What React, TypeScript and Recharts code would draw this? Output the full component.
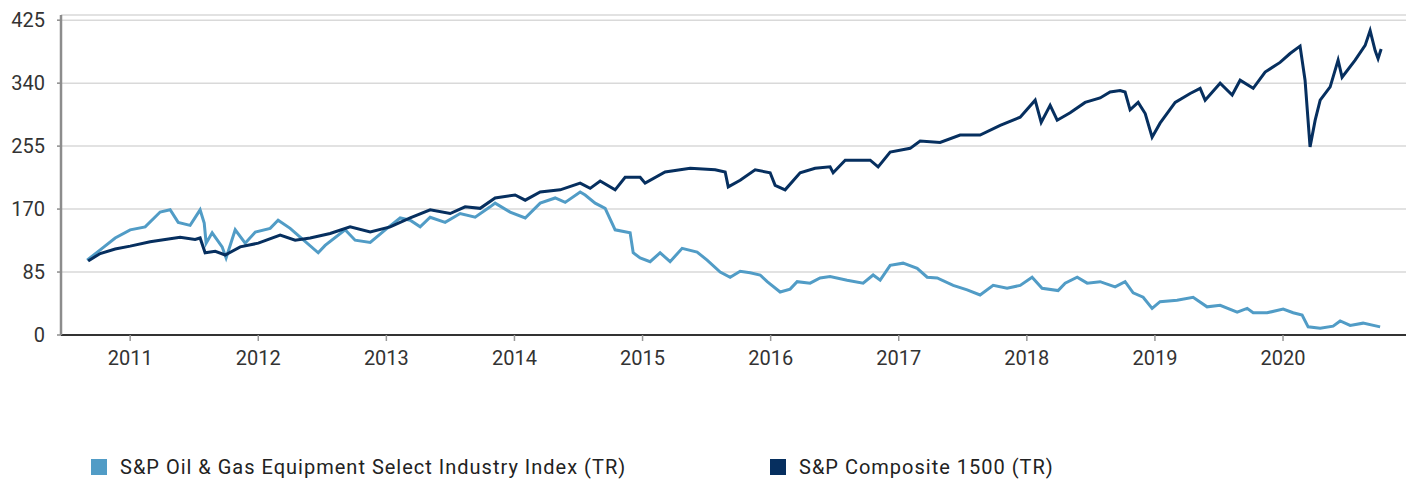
import { LineChart, Line, XAxis, YAxis, CartesianGrid } from "recharts";

const OIL_COLOR = "#519cc6";
const COMP_COLOR = "#062f5f";
const FONT = "Roboto, 'Noto Sans', sans-serif";

const yTicks = [0, 85, 170, 255, 340, 425];
const xTicks = [2011, 2012, 2013, 2014, 2015, 2016, 2017, 2018, 2019, 2020];

// S&P Composite 1500 (TR), decimal year -> index level
const compositeYears = [
  2010.672, 2010.766, 2010.883, 2011.0, 2011.156, 2011.273, 2011.39, 2011.507, 2011.546, 2011.585,
  2011.664, 2011.742, 2011.859, 2012.0, 2012.171, 2012.288, 2012.405, 2012.561, 2012.717, 2012.874,
  2013.03, 2013.186, 2013.342, 2013.498, 2013.615, 2013.732, 2013.849, 2014.005, 2014.084, 2014.201,
  2014.357, 2014.513, 2014.591, 2014.669, 2014.786, 2014.864, 2014.981, 2015.02, 2015.176, 2015.372,
  2015.567, 2015.645, 2015.669, 2015.762, 2015.879, 2015.996, 2016.035, 2016.113, 2016.23, 2016.347,
  2016.464, 2016.488, 2016.582, 2016.777, 2016.839, 2016.933, 2017.089, 2017.167, 2017.323, 2017.479,
  2017.635, 2017.792, 2017.948, 2018.065, 2018.112, 2018.182, 2018.237, 2018.338, 2018.455, 2018.572,
  2018.65, 2018.728, 2018.767, 2018.806, 2018.869, 2018.924, 2018.978, 2019.04, 2019.158, 2019.275,
  2019.353, 2019.392, 2019.509, 2019.603, 2019.665, 2019.767, 2019.86, 2019.977, 2020.055, 2020.133,
  2020.172, 2020.211, 2020.251, 2020.29, 2020.368, 2020.43, 2020.461, 2020.563, 2020.641, 2020.68,
  2020.719, 2020.742, 2020.766,
];
const compositeValues = [
  100, 110, 116, 120, 126, 129, 132, 129, 131, 111,
  113, 108, 119, 124, 135, 128, 131, 137, 146, 139,
  146, 158, 169, 164, 173, 171, 185, 189, 182, 193,
  196, 205, 198, 208, 196, 213, 213, 205, 220, 225,
  223, 220, 200, 209, 223, 219, 202, 196, 219, 225,
  227, 219, 236, 236, 227, 247, 252, 262, 260, 270,
  270, 283, 294, 317, 287, 310, 290, 300, 314, 320,
  328, 330, 328, 304, 314, 299, 267, 286, 314, 326,
  333, 317, 340, 324, 344, 333, 355, 368, 380, 390,
  344, 254, 290, 317, 335, 371, 348, 371, 391, 411,
  384, 373, 386,
];

// S&P Oil & Gas Equipment Select Industry Index (TR)
const oilYears = [
  2010.664, 2010.766, 2010.883, 2011.0, 2011.117, 2011.234, 2011.312, 2011.375, 2011.468, 2011.546,
  2011.578, 2011.593, 2011.64, 2011.718, 2011.749, 2011.82, 2011.898, 2011.977, 2012.093, 2012.155,
  2012.249, 2012.327, 2012.468, 2012.522, 2012.678, 2012.756, 2012.874, 2012.991, 2013.108, 2013.186,
  2013.264, 2013.342, 2013.459, 2013.576, 2013.693, 2013.81, 2013.849, 2013.966, 2014.084, 2014.201,
  2014.318, 2014.396, 2014.513, 2014.552, 2014.63, 2014.708, 2014.786, 2014.903, 2014.927, 2014.981,
  2015.059, 2015.137, 2015.215, 2015.309, 2015.426, 2015.504, 2015.606, 2015.684, 2015.762, 2015.84,
  2015.918, 2015.973, 2016.074, 2016.152, 2016.207, 2016.308, 2016.386, 2016.464, 2016.597, 2016.722,
  2016.8, 2016.855, 2016.933, 2017.034, 2017.144, 2017.222, 2017.3, 2017.425, 2017.534, 2017.635,
  2017.737, 2017.846, 2017.948, 2018.041, 2018.119, 2018.244, 2018.299, 2018.393, 2018.471, 2018.572,
  2018.689, 2018.767, 2018.83, 2018.908, 2018.978, 2019.04, 2019.173, 2019.298, 2019.407, 2019.509,
  2019.642, 2019.72, 2019.767, 2019.876, 2020.001, 2020.079, 2020.149, 2020.196, 2020.29, 2020.391,
  2020.446, 2020.524, 2020.625, 2020.758,
];
const oilValues = [
  101, 115, 131, 142, 146, 166, 169, 152, 148, 169,
  151, 124, 138, 119, 104, 142, 124, 139, 144, 155,
  144, 132, 111, 121, 142, 128, 125, 142, 158, 155,
  146, 159, 152, 164, 159, 173, 178, 166, 158, 178,
  185, 179, 193, 189, 178, 171, 142, 138, 111, 104,
  99, 111, 99, 117, 112, 101, 85, 78, 86, 84,
  81, 72, 58, 62, 72, 70, 77, 79, 74, 70,
  81, 74, 94, 97, 90, 78, 77, 67, 61, 54,
  67, 63, 67, 78, 63, 60, 70, 78, 70, 72,
  65, 72, 57, 51, 36, 45, 47, 51, 38, 40,
  31, 36, 30, 30, 35, 30, 27, 11, 9, 12,
  19, 13, 16, 11,
];

const compositeData = compositeYears.map((t, i) => ({ t, v: compositeValues[i] }));
const oilData = oilYears.map((t, i) => ({ t, v: oilValues[i] }));

const legendItems = [
  { name: "S&P Oil & Gas Equipment Select Industry Index (TR)", color: OIL_COLOR, left: 91 },
  { name: "S&P Composite 1500 (TR)", color: COMP_COLOR, left: 770 },
];

export default function App() {
  return (
    <div style={{ position: "absolute", left: 0, top: 0, width: 1413, height: 479, background: "#fff", fontFamily: FONT }}>
      <LineChart width={1413} height={479} margin={{ top: 15, right: 7, left: 0, bottom: 104 }}>
        <CartesianGrid vertical={false} stroke="#d9d9d9" strokeWidth={1.5} />
        <XAxis
          dataKey="t"
          type="number"
          domain={[2010.46, 2020.96]}
          ticks={xTicks}
          allowDuplicatedCategory={false}
          tickFormatter={(v: number) => String(v)}
          height={40}
          axisLine={{ stroke: "#333", strokeWidth: 2 }}
          tickLine={{ stroke: "#999", strokeWidth: 1.5 }}
          tickSize={6}
          tickMargin={10}
          tick={{ fill: "#333", fontSize: 20, fontFamily: FONT }}
        />
        <YAxis
          type="number"
          domain={[0, 432]}
          ticks={yTicks}
          width={61}
          axisLine={{ stroke: "#8c8c8c", strokeWidth: 2.5 }}
          tickLine={{ stroke: "#8c8c8c", strokeWidth: 1.5 }}
          tickSize={4}
          tickMargin={12}
          tick={{ fill: "#333", fontSize: 20, fontFamily: FONT }}
        />
        <Line data={oilData} dataKey="v" type="linear" stroke={OIL_COLOR} strokeWidth={3} dot={false} isAnimationActive={false} />
        <Line data={compositeData} dataKey="v" type="linear" stroke={COMP_COLOR} strokeWidth={3} dot={false} isAnimationActive={false} />
      </LineChart>
      {legendItems.map((item) => (
        <div key={item.name} style={{ position: "absolute", left: item.left, top: 455, display: "flex", alignItems: "center", fontSize: 20, letterSpacing: 1, color: "#222" }}>
          <span style={{ display: "inline-block", width: 16, height: 16, background: item.color, marginRight: 13 }} />
          <span>{item.name}</span>
        </div>
      ))}
    </div>
  );
}
